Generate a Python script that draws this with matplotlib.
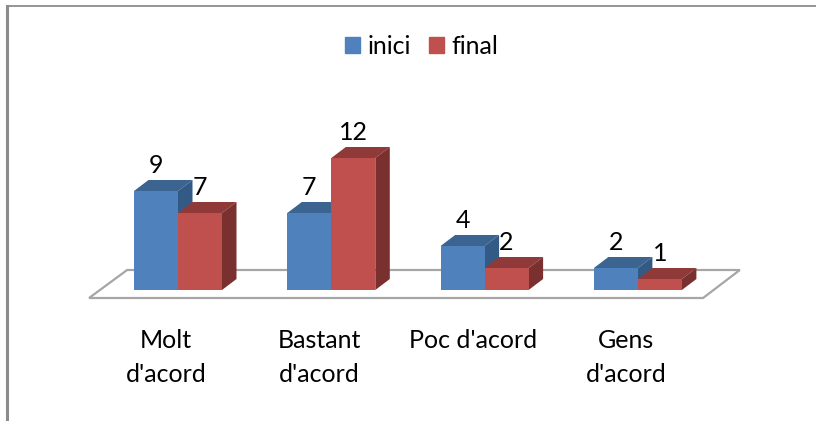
import numpy as np
import matplotlib
matplotlib.use('Agg')
import matplotlib.pyplot as plt
from matplotlib.patches import Polygon, Patch

categories = ["Molt\nd'acord", "Bastant\nd'acord", "Poc d'acord", "Gens\nd'acord"]
inici = [9, 7, 4, 2]
final = [7, 12, 2, 1]

plt.rcParams['font.family'] = ['Lato', 'DejaVu Sans']

W, H = 816, 421
PX_X = 153.3  # pixels per category
PX_Y = 11.0   # pixels per unit

fig = plt.figure(figsize=(W / 100, H / 100), dpi=100)
ax = fig.add_axes([7 / W, 0, (W - 7) / W, (H - 6) / H])
ax.set_xlim((7 - 178) / PX_X, (W - 178) / PX_X)
ax.set_ylim(-(H - 290) / PX_Y, (290 - 6) / PX_Y)
ax.set_xticks([])
ax.set_yticks([])
for s in ['right', 'bottom']:
    ax.spines[s].set_visible(False)
ax.spines['left'].set_color('#8c8c8c')
ax.spines['left'].set_linewidth(2.2)
ax.spines['top'].set_color('#8c8c8c')
ax.spines['top'].set_linewidth(1.3)

width = 44 / PX_X
dx = 14.5 / PX_X
dy = 11 / PX_Y

# floor of the 3d chart
floor = [(-0.58, -8 / PX_Y), (-0.332, 20 / PX_Y), (3.665, 20 / PX_Y), (3.425, -8 / PX_Y)]
ax.add_patch(Polygon(floor, closed=True, facecolor='white', edgecolor='#a6a6a6', lw=1.6, zorder=1))


def bar3d(x, value, front, top, side, z):
    ax.add_patch(Polygon([(x, value), (x + dx, value + dy), (x + width + dx, value + dy), (x + width, value)],
                         closed=True, facecolor=top, edgecolor='none', zorder=z))
    ax.add_patch(Polygon([(x + width, 0), (x + width + dx, dy), (x + width + dx, value + dy), (x + width, value)],
                         closed=True, facecolor=side, edgecolor='none', zorder=z))
    ax.bar(x, value, width, align='edge', color=front, edgecolor='none', zorder=z + 0.5)


ind = np.arange(len(categories))
for i in ind:
    bar3d(i - width, inici[i], '#4f81bd', '#3c6491', '#335a85', 2)
    bar3d(i, final[i], '#c0504d', '#8f3a38', '#7a302e', 3)
    ax.text(i - width / 2, inici[i] + 2.3, str(inici[i]), ha='center', va='center', fontsize=18, color='black', zorder=5)
    ax.text(i + width / 2, final[i] + 2.3, str(final[i]), ha='center', va='center', fontsize=18, color='black', zorder=5)
    ax.text(i - 12 / PX_X, -(341 - 290) / PX_Y, categories[i].split('\n')[0], ha='center', va='center', fontsize=18)
    if '\n' in categories[i]:
        ax.text(i - 12 / PX_X, -(375 - 290) / PX_Y, categories[i].split('\n')[1], ha='center', va='center', fontsize=18)

handles = [Patch(color='#4f81bd', label='inici'), Patch(color='#c0504d', label='final')]
ax.legend(handles=handles, loc='center', bbox_to_anchor=((421.5 - 7) / (W - 7), (H - 46) / (H - 6)), ncol=2,
          frameon=False, fontsize=18, handlelength=0.62, handleheight=0.62, handletextpad=0.3, columnspacing=0.7,
          borderpad=0, borderaxespad=0)

plt.savefig('out.png', dpi=100)
